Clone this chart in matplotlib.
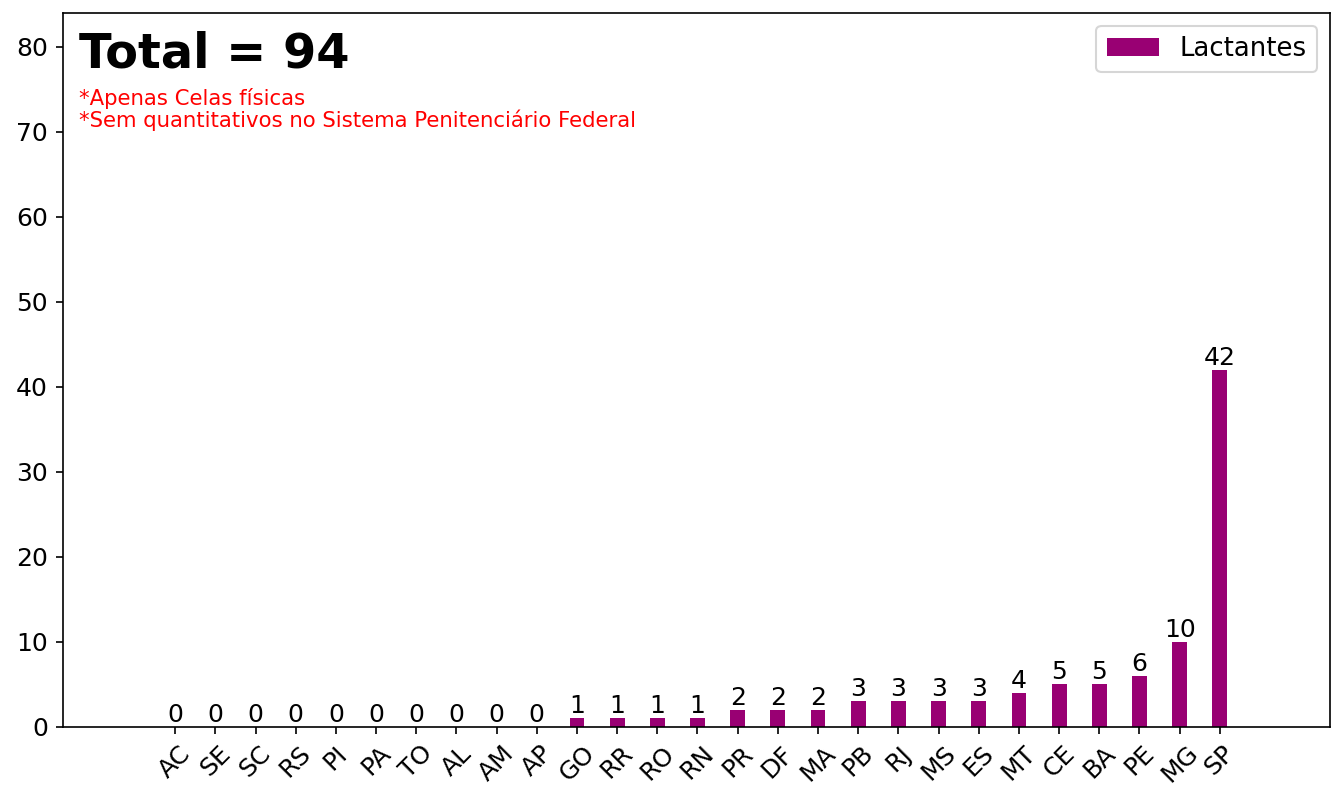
import matplotlib
matplotlib.use('Agg')
import matplotlib.pyplot as plt
import numpy as np

# Lactantes por UF
ufs = ['AC', 'SE', 'SC', 'RS', 'PI', 'PA', 'TO', 'AL', 'AM', 'AP', 'GO', 'RR', 'RO', 'RN',
       'PR', 'DF', 'MA', 'PB', 'RJ', 'MS', 'ES', 'MT', 'CE', 'BA', 'PE', 'MG', 'SP']
lactantes = [0, 0, 0, 0, 0, 0, 0, 0, 0, 0, 1, 1, 1, 1,
             2, 2, 2, 3, 3, 3, 3, 4, 5, 5, 6, 10, 42]

x = np.arange(len(ufs))

fig, ax = plt.subplots(figsize=(1333 / 150, 788 / 150), dpi=150)
barras = ax.bar(x, lactantes, width=0.37, color='#990073', label='Lactantes')
ax.bar_label(barras, fontsize=12)

ax.set_xticks(x)
ax.set_xticklabels(ufs, rotation=45, fontsize=12)
ax.tick_params(axis='y', labelsize=12)
ax.set_xlim(-2.8, 28.75)
ax.set_ylim(0, max(lactantes) * 2)

ax.text(0.013, 0.975, 'Total = %d' % sum(lactantes), transform=ax.transAxes,
        fontsize=23, fontweight='bold', va='top')
ax.text(0.013, 0.895, '*Apenas Celas físicas\n*Sem quantitativos no Sistema Penitenciário Federal',
        transform=ax.transAxes, fontsize=10.2, color='red', va='top', linespacing=1.05)

ax.legend(loc='upper right', fontsize=12.5)

plt.subplots_adjust(left=0.047, right=0.998, top=0.984, bottom=0.078)
plt.savefig('out.png')
